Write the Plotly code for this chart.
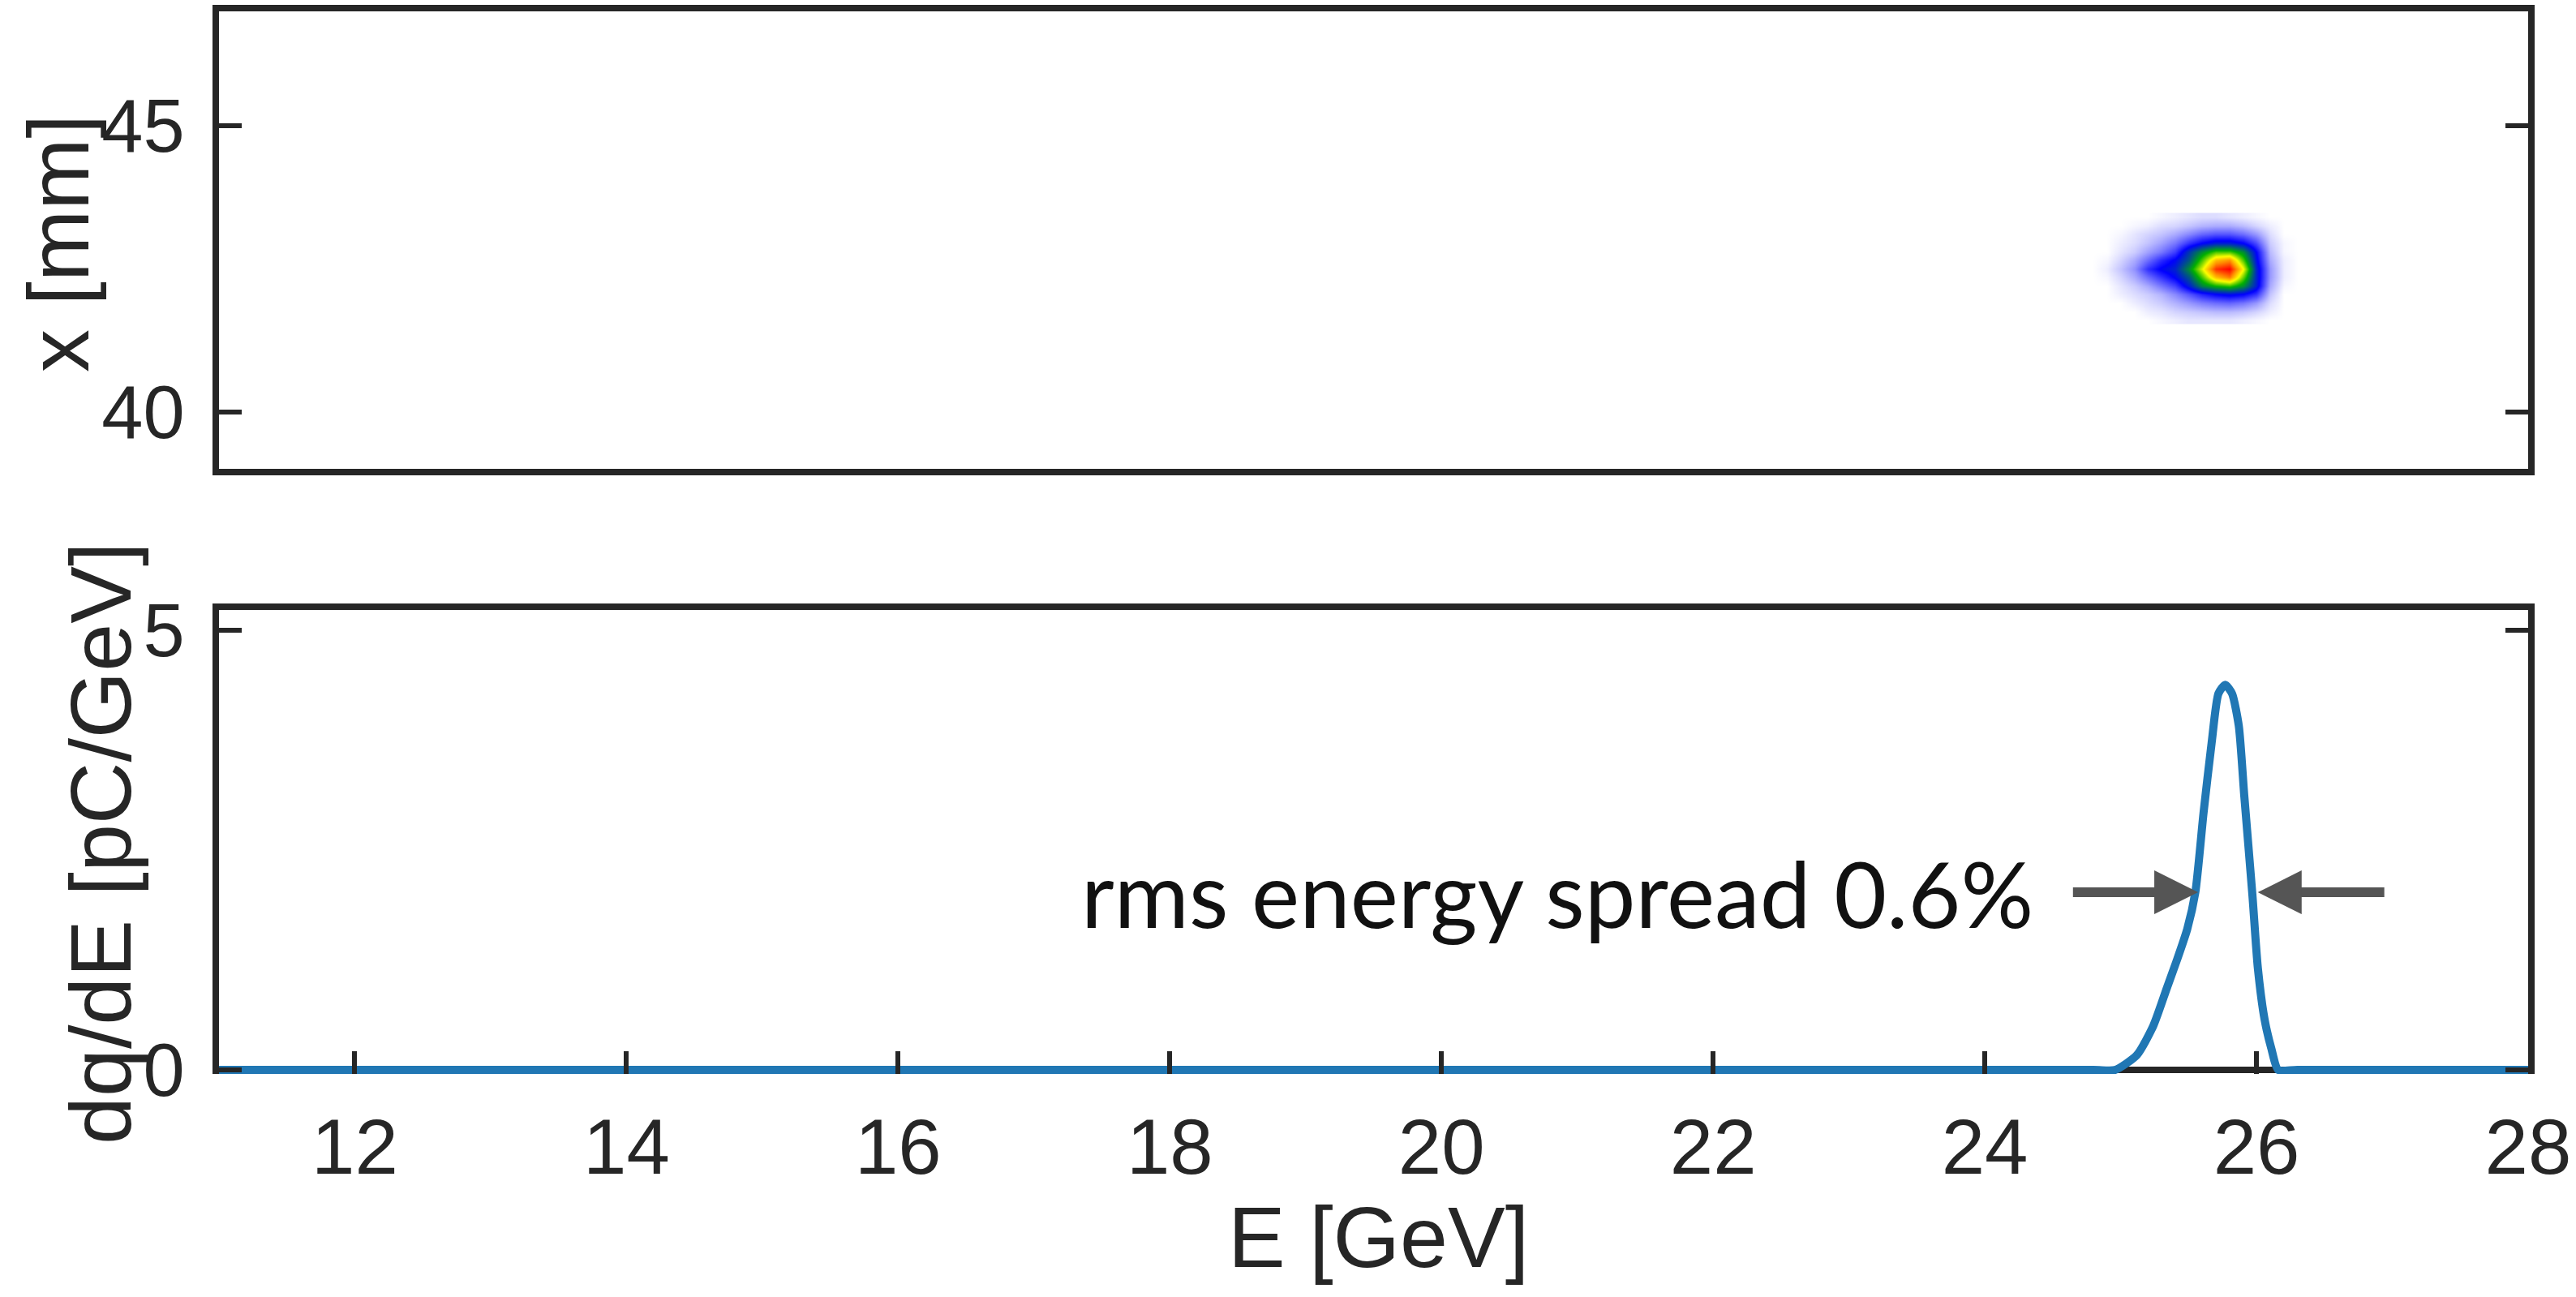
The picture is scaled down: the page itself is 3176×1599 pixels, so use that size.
import plotly.graph_objects as go

# ---------------- data ----------------
# bottom panel: spectrum dq/dE [pC/GeV] vs E [GeV]
E_spec = [11.0, 24.80, 24.96, 25.12, 25.24, 25.34, 25.41, 25.49, 25.55, 25.61, 25.67,
          25.72, 25.77, 25.82, 25.87, 25.91, 25.97, 26.01, 26.06, 26.11, 26.16, 26.30, 28.0]
dqdE = [0.0, 0.0, 0.0, 0.17, 0.50, 0.93, 1.23, 1.60, 2.02, 2.92, 3.72,
        4.28, 4.38, 4.28, 3.91, 3.12, 1.99, 1.16, 0.57, 0.24, 0.0, 0.0, 0.0]

# top panel: beam image (normalised intensity) on a coarse grid
img_E = [24.8, 24.9, 25.0, 25.1, 25.2, 25.3, 25.4, 25.5, 25.6, 25.7, 25.8, 25.9, 26.0, 26.1, 26.2, 26.3]
img_x = [41.6, 41.75, 41.9, 42.05, 42.2, 42.35, 42.5, 42.65, 42.8, 42.95, 43.1, 43.25, 43.4]
img_z = [
    [0, 0, 0, 0, 0, 0.01, 0.02, 0.03, 0.03, 0.03, 0.03, 0.02, 0.01, 0, 0, 0],
    [0, 0, 0, 0, 0.02, 0.03, 0.05, 0.06, 0.07, 0.08, 0.08, 0.07, 0.05, 0.02, 0, 0],
    [0, 0, 0, 0.02, 0.04, 0.06, 0.09, 0.12, 0.15, 0.17, 0.18, 0.16, 0.12, 0.04, 0, 0],
    [0, 0, 0.02, 0.04, 0.06, 0.09, 0.14, 0.20, 0.26, 0.30, 0.32, 0.30, 0.24, 0.07, 0, 0],
    [0, 0, 0.03, 0.06, 0.10, 0.16, 0.22, 0.34, 0.48, 0.55, 0.58, 0.50, 0.34, 0.10, 0.01, 0],
    [0, 0.01, 0.05, 0.10, 0.17, 0.24, 0.31, 0.42, 0.60, 0.80, 0.88, 0.62, 0.35, 0.12, 0.02, 0],
    [0, 0.02, 0.07, 0.13, 0.24, 0.31, 0.35, 0.50, 0.70, 0.95, 1.00, 0.72, 0.35, 0.12, 0.02, 0],
    [0, 0.01, 0.05, 0.10, 0.17, 0.25, 0.31, 0.42, 0.60, 0.80, 0.85, 0.60, 0.32, 0.10, 0.02, 0],
    [0, 0, 0.03, 0.06, 0.11, 0.16, 0.23, 0.38, 0.50, 0.60, 0.60, 0.50, 0.30, 0.08, 0.01, 0],
    [0, 0, 0.02, 0.04, 0.07, 0.11, 0.16, 0.24, 0.30, 0.34, 0.34, 0.30, 0.21, 0.06, 0.01, 0],
    [0, 0, 0.01, 0.03, 0.05, 0.07, 0.10, 0.14, 0.18, 0.20, 0.20, 0.17, 0.12, 0.04, 0, 0],
    [0, 0, 0, 0.01, 0.02, 0.04, 0.05, 0.07, 0.09, 0.10, 0.10, 0.08, 0.05, 0.02, 0, 0],
    [0, 0, 0, 0, 0, 0.01, 0.02, 0.03, 0.04, 0.04, 0.03, 0.02, 0.01, 0, 0, 0],
]

E_ticks = [12, 14, 16, 18, 20, 22, 24, 26, 28]
x_ticks = [40, 45]
q_ticks = [0, 5]

annot_text = "rms energy spread 0.6%"
arrow_left = (24.64, 25.57)   # tail, tip
arrow_right = (26.95, 26.01)  # tail, tip
arrow_y = 2.02

# ---------------- layout constants ----------------
W, H = 3176, 1599
ML, MR, MT, MB = 270, 59, 14, 275
PW = W - ML - MR
PH = H - MT - MB
top_dom = [(H - MB - 578) / PH, 1.0]
bot_dom = [0.0, (H - MB - 752) / PH]

AX = "#262626"
XTICKFONT = dict(family="Liberation Sans, Arial, sans-serif", size=96, color=AX)
YTICKFONT = dict(family="Liberation Sans, Arial, sans-serif", size=92, color=AX)
TITLEFONT = dict(family="Liberation Sans, Arial, sans-serif", size=106, color=AX)

colorscale = [
    [0.0, "#ffffff"],
    [0.30, "#0000ff"],
    [0.55, "#00b000"],
    [0.72, "#ffff00"],
    [0.86, "#ff8c00"],
    [1.0, "#ff0000"],
]

fig = go.Figure()

fig.add_trace(go.Heatmap(
    x=img_E, y=img_x, z=img_z, colorscale=colorscale, zmin=0, zmax=1,
    zsmooth="best", showscale=False, xaxis="x", yaxis="y", hoverinfo="skip",
))

fig.add_trace(go.Scatter(
    x=E_spec, y=dqdE, mode="lines",
    line=dict(color="#2077b4", width=10, shape="spline", smoothing=0.6),
    xaxis="x2", yaxis="y2", showlegend=False, hoverinfo="skip",
))

common_x = dict(range=[11, 28], showgrid=False, zeroline=False, color=AX, automargin=False)

fig.update_layout(
    width=W, height=H,
    margin=dict(l=ML, r=MR, t=MT, b=MB, pad=0, autoexpand=False),
    paper_bgcolor="white", plot_bgcolor="rgba(0,0,0,0)",
    showlegend=False,
    xaxis=dict(**common_x, domain=[0, 1], anchor="y", showticklabels=False,
               ticks="", showline=True, mirror=True, linewidth=8, linecolor=AX),
    yaxis=dict(range=[39, 47], domain=top_dom, anchor="x", tickvals=x_ticks,
               ticks="inside", ticklen=28, tickwidth=6, tickcolor=AX,
               showline=True, mirror="ticks", linewidth=8, linecolor=AX,
               showgrid=False, zeroline=False, tickfont=YTICKFONT,
               ticklabelstandoff=16, automargin=False),
    xaxis2=dict(**common_x, domain=[0, 1], anchor="y2", tickvals=E_ticks,
                ticks="inside", ticklen=28, tickwidth=6, tickcolor=AX,
                showline=False, tickfont=XTICKFONT, ticklabelstandoff=26),
    yaxis2=dict(range=[-0.046, 5.23], domain=bot_dom, anchor="x2", tickvals=q_ticks,
                ticks="inside", ticklen=28, tickwidth=6, tickcolor=AX,
                showline=True, mirror="ticks", linewidth=8, linecolor=AX,
                showgrid=False, zeroline=True, zerolinecolor=AX, zerolinewidth=8,
                tickfont=YTICKFONT, ticklabelstandoff=16, automargin=False),
)

# top frame line of the lower panel
ytop = bot_dom[1] + 4 / PH
fig.add_shape(type="line", xref="paper", yref="paper",
              x0=-8 / PW, x1=1 + 8 / PW, y0=ytop, y1=ytop,
              line=dict(color=AX, width=8), layer="above")

# axis titles
fig.add_annotation(text="x [mm]", xref="paper", yref="paper",
                   x=(72 - ML) / PW, y=(H - MB - 300) / PH, textangle=-90,
                   showarrow=False, font=TITLEFONT, xanchor="center", yanchor="middle")
fig.add_annotation(text="dq/dE [pC/GeV]", xref="paper", yref="paper",
                   x=(124 - ML) / PW, y=(H - MB - 1040) / PH, textangle=-90,
                   showarrow=False, font=TITLEFONT, xanchor="center", yanchor="middle")
fig.add_annotation(text="E [GeV]", xref="paper", yref="paper",
                   x=(1699 - ML) / PW, y=(H - MB - 1525) / PH,
                   showarrow=False, font=TITLEFONT, xanchor="center", yanchor="middle")

# energy spread annotation and arrows
fig.add_annotation(text=annot_text, xref="x2", yref="y2", x=24.37, y=2.02,
                   showarrow=False, xanchor="right", yanchor="middle",
                   font=dict(family="Lato, sans-serif", size=112, color="#111111"))
for tail, tip in (arrow_left, arrow_right):
    fig.add_annotation(text="", xref="x2", yref="y2", axref="x2", ayref="y2",
                       x=tip, y=arrow_y, ax=tail, ay=arrow_y,
                       showarrow=True, arrowhead=2, arrowsize=0.9, arrowwidth=12,
                       arrowcolor="#555555")

fig.write_html("out.html")
